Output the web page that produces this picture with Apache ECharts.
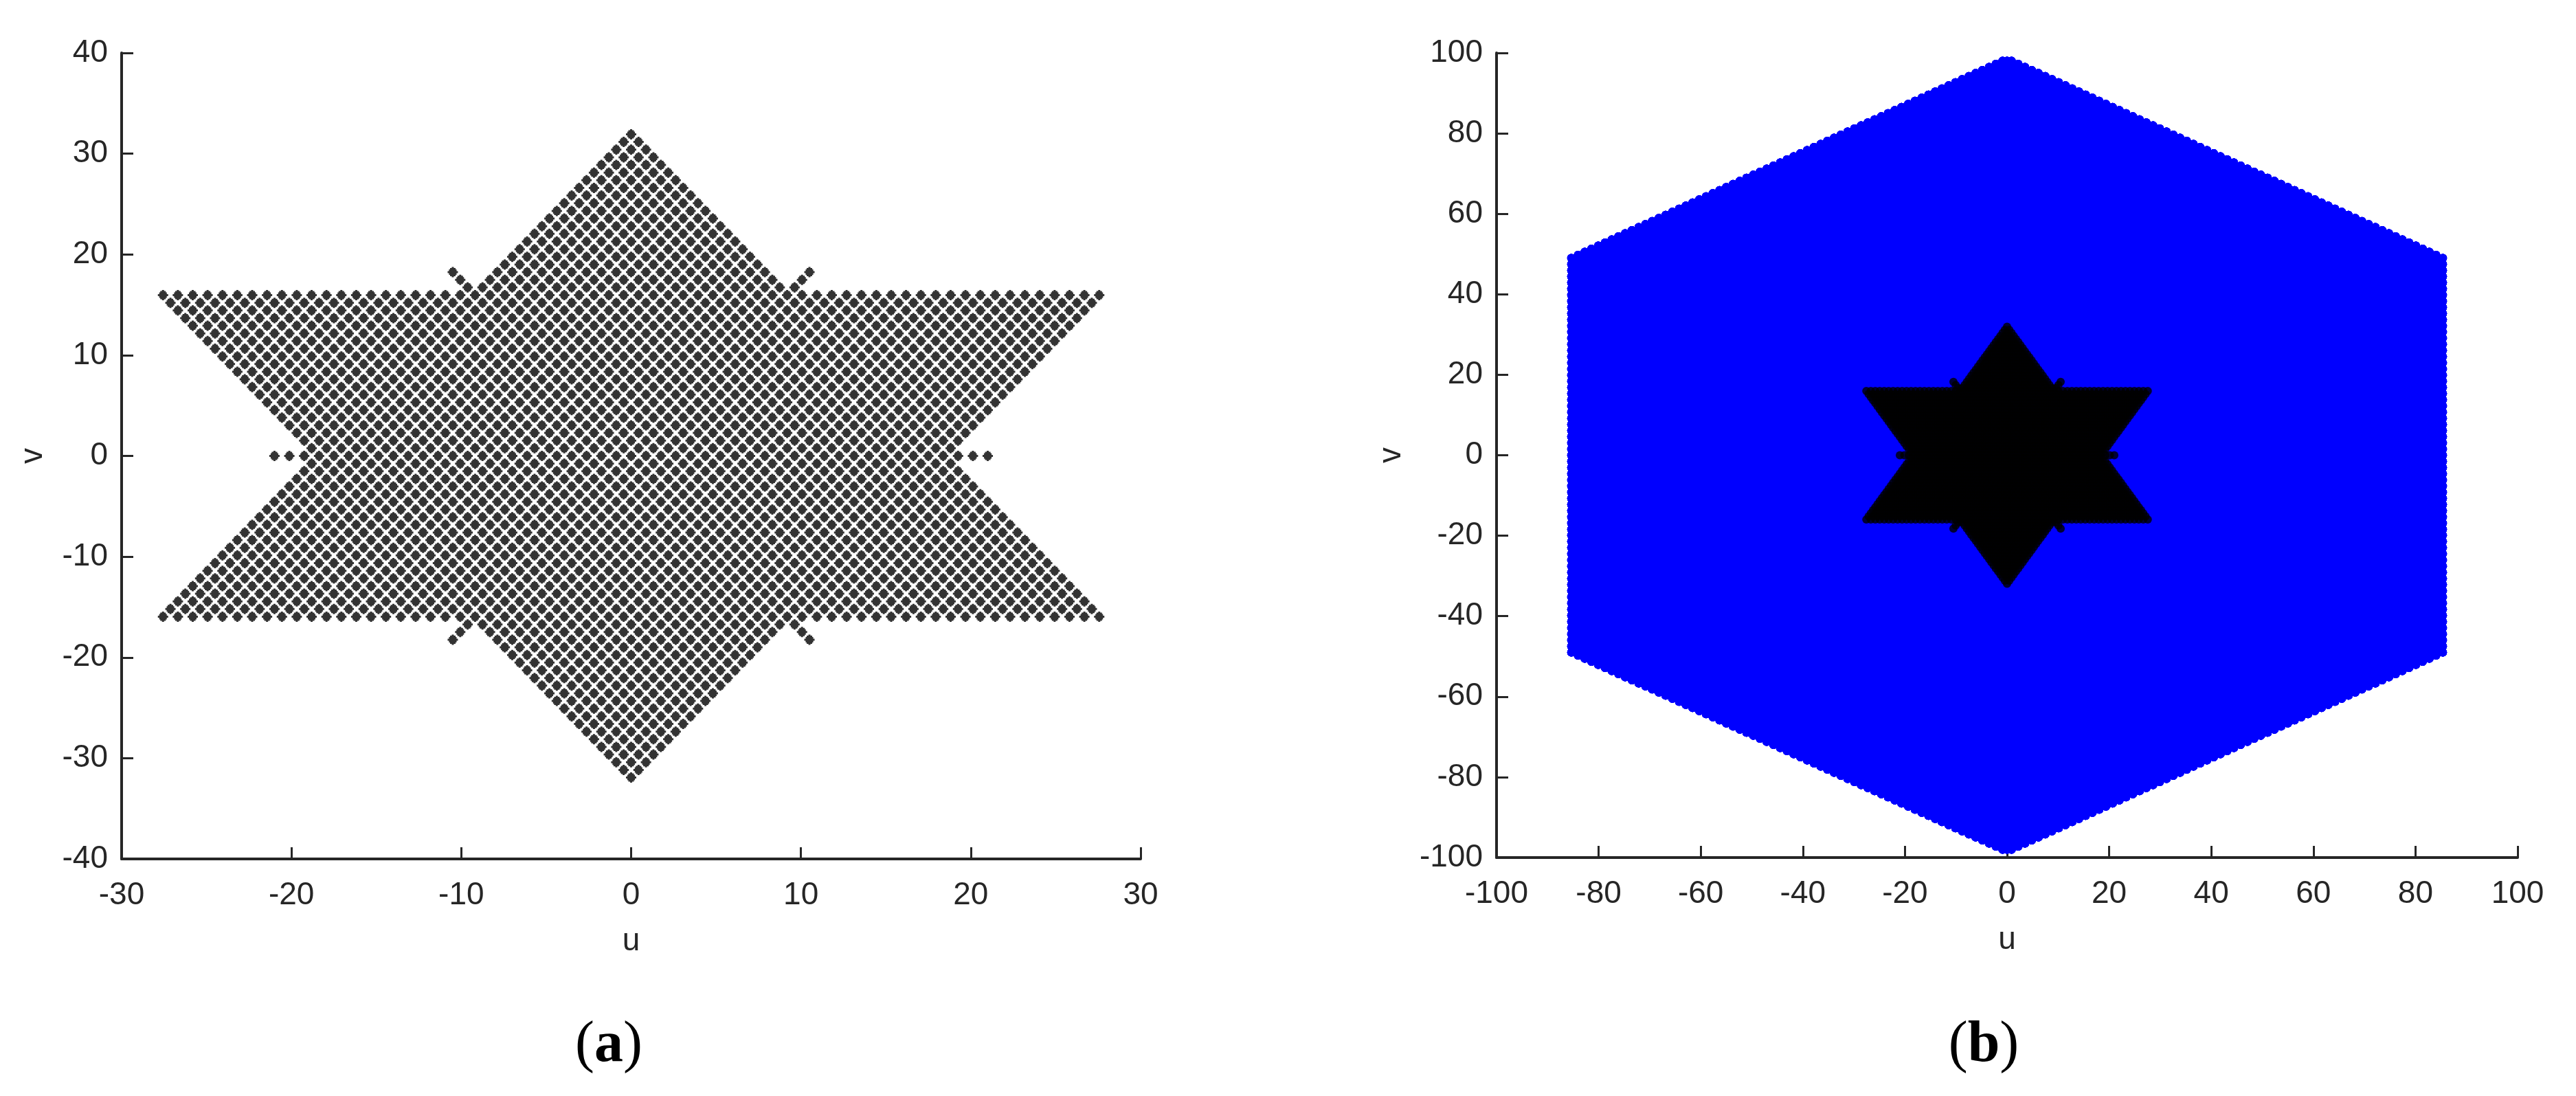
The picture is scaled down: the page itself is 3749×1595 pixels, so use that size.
<!DOCTYPE html>
<html><head><meta charset="utf-8">
<style>html,body{margin:0;padding:0;background:#fff}#c{width:3749px;height:1595px}</style>
<script src="https://cdn.jsdelivr.net/npm/echarts@6/dist/echarts.min.js"></script>
</head><body><div id="c"></div>
<script>
// Half-width of each lattice row (in half-column steps), row 0 upward; the shape is mirrored about both axes.
const starRowHalf = [42,43,44,45,46,47,48,49,50,51,52,53,54,55,56,57,58,59,60,61,62,63,
  20,19,18,17,16,15,14,13,12,11,10,9,8,7,6,5,4,3,2,1,0];
// Isolated points outside the star outline (column, row), first quadrant.
const starSpurCol = [44,46,48,22,23,24];
const starSpurRow = [0,0,0,22,23,24];
const hexRowHalf = [194,193,194,193,194,193,194,193,194,193,194,193,194,193,194,193,194,193,194,193,194,193,
  194,193,194,193,194,193,194,193,194,193,194,193,194,193,194,193,194,193,194,193,194,193,194,193,194,193,
  194,193,194,193,194,193,194,193,194,193,194,193,194,193,194,193,194,
  191,188,185,182,179,176,173,170,167,164,161,158,155,152,149,146,143,140,137,134,131,128,125,122,119,116,113,110,
  107,104,101,98,95,92,89,86,83,80,77,74,71,68,65,62,59,56,53,50,47,44,41,38,35,32,29,26,23,20,17,14,11,8,5,2];
const starDU = 0.4375, starDV = 0.76;
const hexDU = 0.44, hexDV = 0.766;
const ticksA = {xMin:-30,xMax:30,xStep:10,yMin:-40,yMax:40,yStep:10};
const ticksB = {xMin:-100,xMax:100,xStep:20,yMin:-100,yMax:100,yStep:20};

function lattice(rowHalf, du, dv){
  const pts=[];
  rowHalf.forEach((h,j)=>{
    for(let i=-h;i<=h;i+=2){
      pts.push([i*du,j*dv]);
      if(j>0) pts.push([i*du,-j*dv]);
    }
  });
  return pts;
}
function star(){
  const pts=lattice(starRowHalf,starDU,starDV);
  starSpurCol.forEach((c,k)=>{
    const r=starSpurRow[k];
    [1,-1].forEach(sx=>{
      if(r===0){pts.push([sx*c*starDU,0]);}
      else [1,-1].forEach(sy=>pts.push([sx*c*starDU,sy*r*starDV]));
    });
  });
  return pts;
}
const starPts=star(), hexPts=lattice(hexRowHalf,hexDU,hexDV);

const INK='#262626', FONT='"Liberation Sans", Arial, sans-serif';
const pixelMark='path://M6 0H9V1.5H11.5V3.5H13V6H15V9H13V11.5H11.5V13.5H9V15H6V13.5H3.5V11.5H2V9H0V6H2V3.5H3.5V1.5H6Z';

function xAxis(t,idx){return {gridIndex:idx,type:'value',min:t.xMin,max:t.xMax,interval:t.xStep,
  name:'u',nameLocation:'middle',nameGap:97,nameTextStyle:{fontSize:46,fontFamily:FONT,color:INK},
  axisLine:{show:true,onZero:false,lineStyle:{color:INK,width:4}},
  axisTick:{show:true,inside:true,length:17,lineStyle:{color:INK,width:3}},
  axisLabel:{show:true,margin:30,fontSize:46,fontFamily:FONT,color:INK,showMinLabel:true,showMaxLabel:true,hideOverlap:false},
  splitLine:{show:false}};}
function yAxis(t,idx,gap){return {gridIndex:idx,type:'value',min:t.yMin,max:t.yMax,interval:t.yStep,
  name:'v',nameLocation:'middle',nameGap:gap,nameRotate:90,nameTextStyle:{fontSize:46,fontFamily:FONT,color:INK},
  axisLine:{show:true,onZero:false,lineStyle:{color:INK,width:4}},
  axisTick:{show:true,inside:true,length:17,lineStyle:{color:INK,width:3}},
  axisLabel:{show:true,margin:20,fontSize:46,fontFamily:FONT,color:INK,padding:[10,0,0,0],showMinLabel:true,showMaxLabel:true,hideOverlap:false},
  splitLine:{show:false}};}
function caption(letter,x){return {text:'{p|(}{b|'+letter+'}{p|)}',left:x,top:1475,textAlign:'center',
  textStyle:{rich:{p:{fontFamily:'"Liberation Serif",serif',fontSize:84,color:'#000',fontWeight:'normal'},
                   b:{fontFamily:'"Liberation Serif",serif',fontSize:84,color:'#000',fontWeight:'bold'}}}};}

const chart=echarts.init(document.getElementById('c'),null,{renderer:'canvas'});
chart.setOption({
  animation:false,backgroundColor:'#fff',
  title:[caption('a',881),caption('b',2882)],
  grid:[{left:177,top:77,width:1483,height:1173},{left:2178,top:77,width:1486,height:1171}],
  xAxis:[xAxis(ticksA,0),xAxis(ticksB,1)],
  yAxis:[yAxis(ticksA,0,106),yAxis(ticksB,1,130)],
  series:[
    {type:'scatter',xAxisIndex:0,yAxisIndex:0,data:starPts,symbol:pixelMark,symbolSize:15,silent:true,
     itemStyle:{color:'#000'}},
    {type:'scatter',xAxisIndex:1,yAxisIndex:1,data:hexPts,symbol:'circle',symbolSize:12,silent:true,large:true,largeThreshold:1000,
     itemStyle:{color:'#0000ff'},z:2},
    {type:'scatter',xAxisIndex:1,yAxisIndex:1,data:starPts,symbol:'circle',symbolSize:12,silent:true,
     itemStyle:{color:'#000'},z:3}
  ]
});
</script></body></html>
